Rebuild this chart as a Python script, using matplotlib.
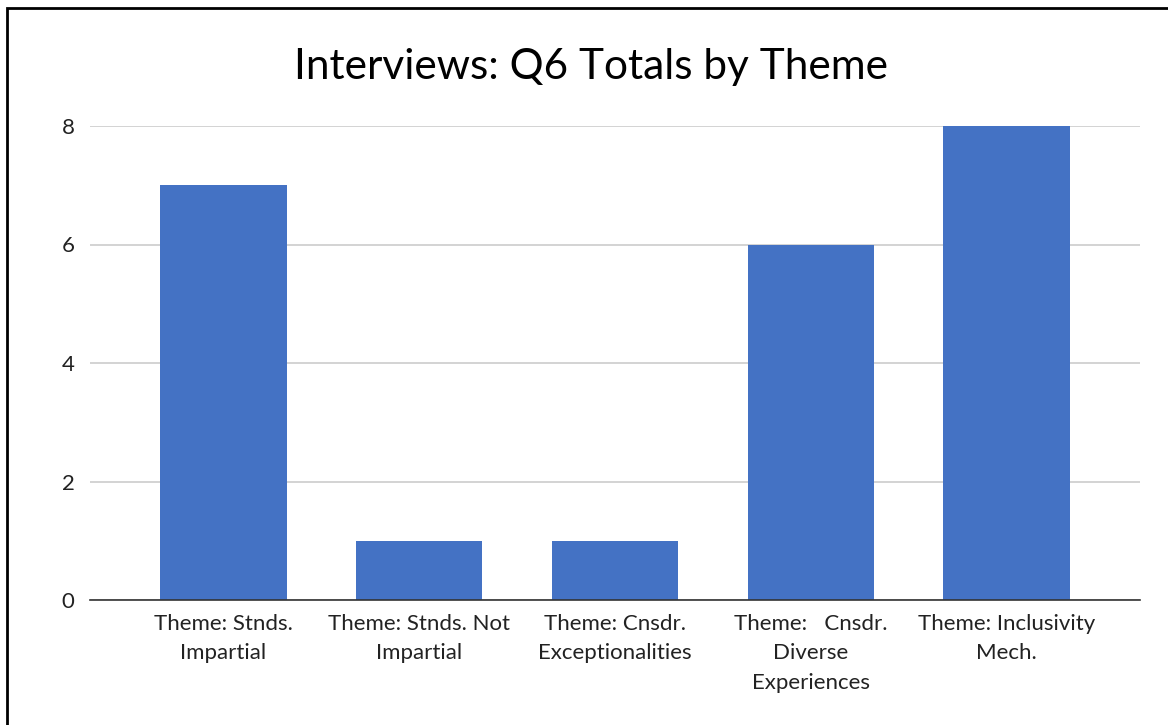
import matplotlib.pyplot as plt
from matplotlib.patches import Rectangle

themes = [
    "Theme: Stnds.\nImpartial",
    "Theme: Stnds. Not\nImpartial",
    "Theme: Cnsdr.\nExceptionalities",
    "Theme:   Cnsdr.\nDiverse\nExperiences",
    "Theme: Inclusivity\nMech.",
]
totals = [7, 1, 1, 6, 8]
yticks = [0, 2, 4, 6, 8]

plt.rcParams['font.family'] = ['Lato', 'DejaVu Sans']

fig = plt.figure(figsize=(11.68, 7.25), dpi=100)
ax = fig.add_axes([90 / 1168, 1 - 600 / 725, 1050 / 1168, 474 / 725])

ax.bar(range(len(themes)), totals, width=0.644, color="#4472c4", zorder=3)

ax.set_xlim(-0.682, 4.682)
ax.set_ylim(0, 8)
ax.set_yticks(yticks)
ax.set_xticks(range(len(themes)))
ax.set_xticklabels(themes, fontsize=16, linespacing=1.6, color="#222222")
ax.tick_params(axis="y", labelsize=16, length=0, pad=11, labelcolor="#222222")
ax.tick_params(axis="x", length=0, pad=10)

ax.grid(axis="y", color="#cccccc", lw=1.2, zorder=0)
for s in ["top", "right", "left"]:
    ax.spines[s].set_visible(False)
ax.spines["bottom"].set_color("#333333")
ax.spines["bottom"].set_linewidth(1.2)
ax.spines["bottom"].set_zorder(4)

fig.text(591 / 1168, 1 - 67 / 725, "Interviews: Q6 Totals by Theme",
         fontsize=30.5, ha="center", va="center")

# frame around the chart (cut off on right and bottom)
fig.patches.append(Rectangle((7 / 1168, -0.1), 1.2, 1 - 8 / 725 + 0.1,
                             transform=fig.transFigure, fill=False,
                             ec="black", lw=2))

plt.savefig("out.png", dpi=100)
